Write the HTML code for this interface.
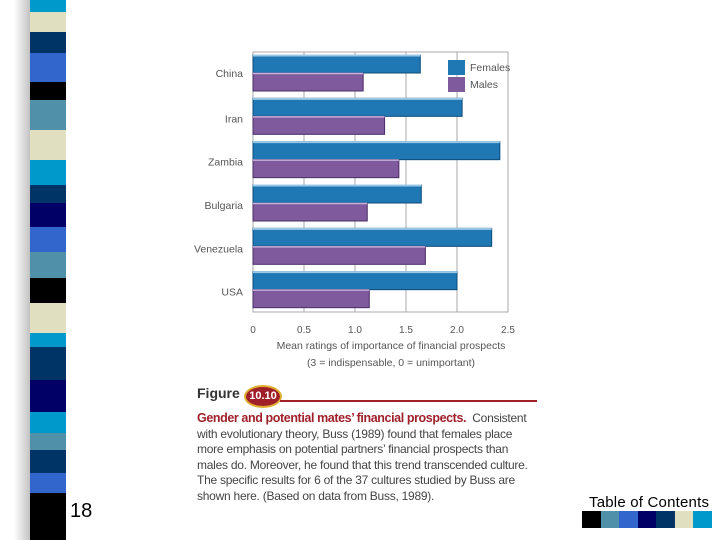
<!DOCTYPE html>
<html><head><meta charset="utf-8"><style>
body{margin:0;width:720px;height:540px;background:#fff;position:relative;overflow:hidden;font-family:"Liberation Sans",sans-serif}
.s{position:absolute;left:30px;width:36px}
.cap{position:absolute;left:197px;font-size:12px;color:#444;white-space:nowrap;letter-spacing:-0.25px}
</style></head><body>
<div style="position:absolute;left:14px;top:0;width:18px;height:540px;background:linear-gradient(90deg,#fff,#bbb)"></div>
<div id="stripe"></div>
<svg width="720" height="540" style="position:absolute;left:0;top:0" id="chart"></svg>
<div style="position:absolute;left:197px;top:385px;font-size:14px;font-weight:bold;color:#333">Figure</div>
<div style="position:absolute;left:244px;top:385px;width:34px;height:19px;border-radius:50%;background:#a0202a;border:2px solid #e0b030;color:#fff;font-size:11px;font-weight:bold;text-align:center;line-height:19px">10.10</div>
<div style="position:absolute;left:280px;top:400px;width:257px;height:2px;background:#a0202a"></div>
<div class="cap" style="top:411px;line-height:15.6px"><b style="color:#a0202a;font-size:12.5px;letter-spacing:-0.4px">Gender and potential mates’ financial prospects.</b> &nbsp;Consistent<br>with evolutionary theory, Buss (1989) found that females place<br>more emphasis on potential partners’ financial prospects than<br>males do. Moreover, he found that this trend transcended culture.<br>The specific results for 6 of the 37 cultures studied by Buss are<br>shown here. (Based on data from Buss, 1989).</div>
<div style="position:absolute;left:70px;top:500px;font-size:20px;color:#000">18</div>
<div style="position:absolute;left:589px;top:494px;font-size:15px;color:#000;letter-spacing:0.2px">Table of Contents</div>
<div id="sw" style="position:absolute;left:582px;top:511px;height:17px;width:130px;display:flex"></div>
<script>
const categories=["China","Iran","Zambia","Bulgaria","Venezuela","USA"];
const females=[1.64,2.05,2.42,1.65,2.34,2.0];
const males=[1.08,1.29,1.43,1.12,1.69,1.14];
const ticks=[0,0.5,1.0,1.5,2.0,2.5];
const tickLabels=["0","0.5","1.0","1.5","2.0","2.5"];
const ns="http://www.w3.org/2000/svg",svg=document.getElementById('chart');
const X0=253,X1=508,Y0=52,Y1=312,xs=v=>X0+(v/2.5)*(X1-X0);
function mk(t,a,p){const e=document.createElementNS(ns,t);for(const k in a)e.setAttribute(k,a[k]);(p||svg).appendChild(e);return e;}
let r=mk('rect',{x:X0,y:Y0,width:X1-X0,height:Y1-Y0,fill:'none',stroke:'#aaa'});


ticks.forEach((t,i)=>{
 if(i>0&&i<ticks.length-1){let g=mk('line',{x1:xs(t),x2:xs(t),y1:Y0,y2:Y1,stroke:'#aaa'});
 
 }
 let l=mk('text',{x:xs(t),y:333,'text-anchor':'middle','font-size':10,fill:'#555'});l.textContent=tickLabels[i];
 
 
});
const band=(Y1-Y0)/categories.length;
categories.forEach((c,i)=>{
 const y=Y0+3+i*band;
 let f=mk('rect',{x:X0,y:y,width:xs(females[i])-X0,height:18,fill:'#1f78b4',stroke:'#0d4a78','stroke-width':1});
 
 
 mk('line',{x1:X0,x2:xs(females[i]),y1:y+0.5,y2:y+0.5,stroke:'#9cc8e8','stroke-width':2});
 let m=mk('rect',{x:X0,y:y+18,width:xs(males[i])-X0,height:18,fill:'#7f5a9c',stroke:'#4a2d66','stroke-width':1});
 
 
 mk('line',{x1:X0,x2:xs(males[i]),y1:y+18.5,y2:y+18.5,stroke:'#c8b0dc','stroke-width':1.5});
 let t=mk('text',{x:243,y:y+24-(i==0?2:0),'text-anchor':'end','font-size':10.5,fill:'#555'});t.textContent=c;
 
 
});
[['Females','#1f78b4',60],['Males','#7f5a9c',77]].forEach(([n,c,y])=>{
 let s=mk('rect',{x:448,y:y,width:17,height:15,fill:c});
 
 
 let t=mk('text',{x:470,y:y+11,'font-size':10.5,fill:'#555'});t.textContent=n;
 
 
});
let a1=mk('text',{x:391,y:349,'text-anchor':'middle','font-size':10.5,fill:'#555'});a1.textContent='Mean ratings of importance of financial prospects';


let a2=mk('text',{x:391,y:366,'text-anchor':'middle','font-size':10.5,fill:'#555'});a2.textContent='(3 = indispensable, 0 = unimportant)';


const stripes=[[0,12,'#0099cc'],[12,32,'#e0e0c0'],[32,53,'#003366'],[53,82,'#3366cc'],[82,100,'#000'],[100,130,'#5090a8'],[130,160,'#e0e0c0'],[160,185,'#0099cc'],[185,203,'#003366'],[203,227,'#000066'],[227,252,'#3366cc'],[252,278,'#5090a8'],[278,303,'#000'],[303,333,'#e0e0c0'],[333,347,'#0099cc'],[347,380,'#003366'],[380,412,'#000066'],[412,433,'#0099cc'],[433,450,'#5090a8'],[450,473,'#003366'],[473,493,'#3366cc'],[493,540,'#000']];
const st=document.getElementById('stripe');
stripes.forEach(s=>{const d=document.createElement('div');d.className='s';d.style.top=s[0]+'px';d.style.height=(s[1]-s[0])+'px';d.style.background=s[2];


st.appendChild(d);});
['#000','#5090a8','#3366cc','#000066','#003366','#e0e0c0','#0099cc'].forEach(c=>{const d=document.createElement('div');d.style.flex='1';d.style.background=c;


document.getElementById('sw').appendChild(d);});
</script>
</body></html>
